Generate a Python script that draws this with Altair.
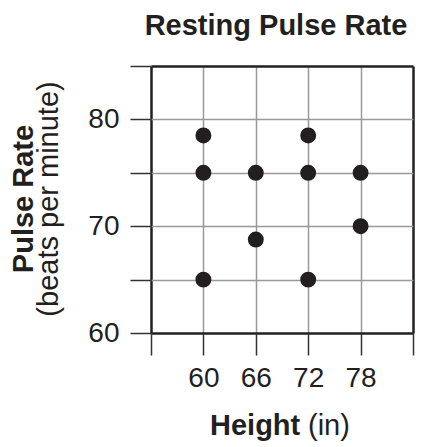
import altair as alt
import pandas as pd

# Data
heights = [60, 60, 60, 66, 66, 72, 72, 72, 78, 78]
pulses = [78.5, 75, 65, 75, 68.75, 78.5, 75, 65, 75, 70]

x_ticks = [54, 60, 66, 72, 78, 84]
y_ticks = [60, 65, 70, 75, 80, 85]

chart_title = ["Resting Pulse Rate"]
x_title_bold = ["Height"]
x_title_reg = ["(in)"]
y_title_bold = ["Pulse Rate"]
y_title_reg = ["(beats per minute)"]

FONT = "Liberation Sans"
INK = "#231f20"

df = pd.DataFrame({"height": heights, "pulse": pulses})

edge_x = "datum.value == 54 || datum.value == 84"
edge_y = "datum.value == 60 || datum.value == 85"

points = alt.Chart(df).mark_circle(size=254, color=INK, opacity=1).encode(
    x=alt.X("height:Q",
            scale=alt.Scale(domain=[54, 84], nice=False, zero=False),
            axis=alt.Axis(values=x_ticks,
                          labelExpr="(datum.value >= 60 && datum.value <= 78) ? datum.label : ''",
                          title=None, domain=False, tickSize=22, tickColor="#333333",
                          tickWidth=1.5, labelFontSize=28, labelFont=FONT,
                          labelColor=INK, labelPadding=9, labelOverlap=False,
                          labelFlush=False,
                          grid=True,
                          gridColor={"condition": {"test": edge_x, "value": INK}, "value": "#999999"},
                          gridWidth={"condition": {"test": edge_x, "value": 2.5}, "value": 1.5},
                          gridOpacity=1)),
    y=alt.Y("pulse:Q",
            scale=alt.Scale(domain=[60, 85], nice=False, zero=False),
            axis=alt.Axis(values=y_ticks,
                          labelExpr="(datum.value == 60 || datum.value == 70 || datum.value == 80) ? datum.label : ''",
                          title=None, domain=False, tickSize=21, tickColor="#333333",
                          tickWidth=1.5, labelFontSize=28, labelFont=FONT,
                          labelColor=INK, labelPadding=11, labelOverlap=False,
                          labelFlush=False,
                          grid=True,
                          gridColor={"condition": {"test": edge_y, "value": INK}, "value": "#999999"},
                          gridWidth={"condition": {"test": edge_y, "value": 2.5}, "value": 1.5},
                          gridOpacity=1)),
)


def label(texts, bold, size, x, y, align="center", angle=0):
    return alt.Chart(pd.DataFrame({"t": texts})).mark_text(
        font=FONT, fontSize=size, fontWeight="bold" if bold else "normal",
        color=INK, align=align, baseline="alphabetic", angle=angle,
    ).encode(text="t:N", x=alt.value(x), y=alt.value(y))


title = label(chart_title, True, 29, 125, -31)
xt1 = label(x_title_bold, True, 29, 59, 369, align="left")
xt2 = label(x_title_reg, False, 29, 157, 369, align="left")
yt1 = label(y_title_bold, True, 29, -118, 133, angle=270)
yt2 = label(y_title_reg, False, 29, -93, 133, angle=270)

chart = alt.layer(points, title, xt1, xt2, yt1, yt2).properties(
    width=262, height=267,
    padding={"left": 143, "top": 58, "right": 6, "bottom": 114},
    autosize="none",
).configure_view(stroke=None)

chart.save("out.html", embed_options={"renderer": "svg", "actions": False})
